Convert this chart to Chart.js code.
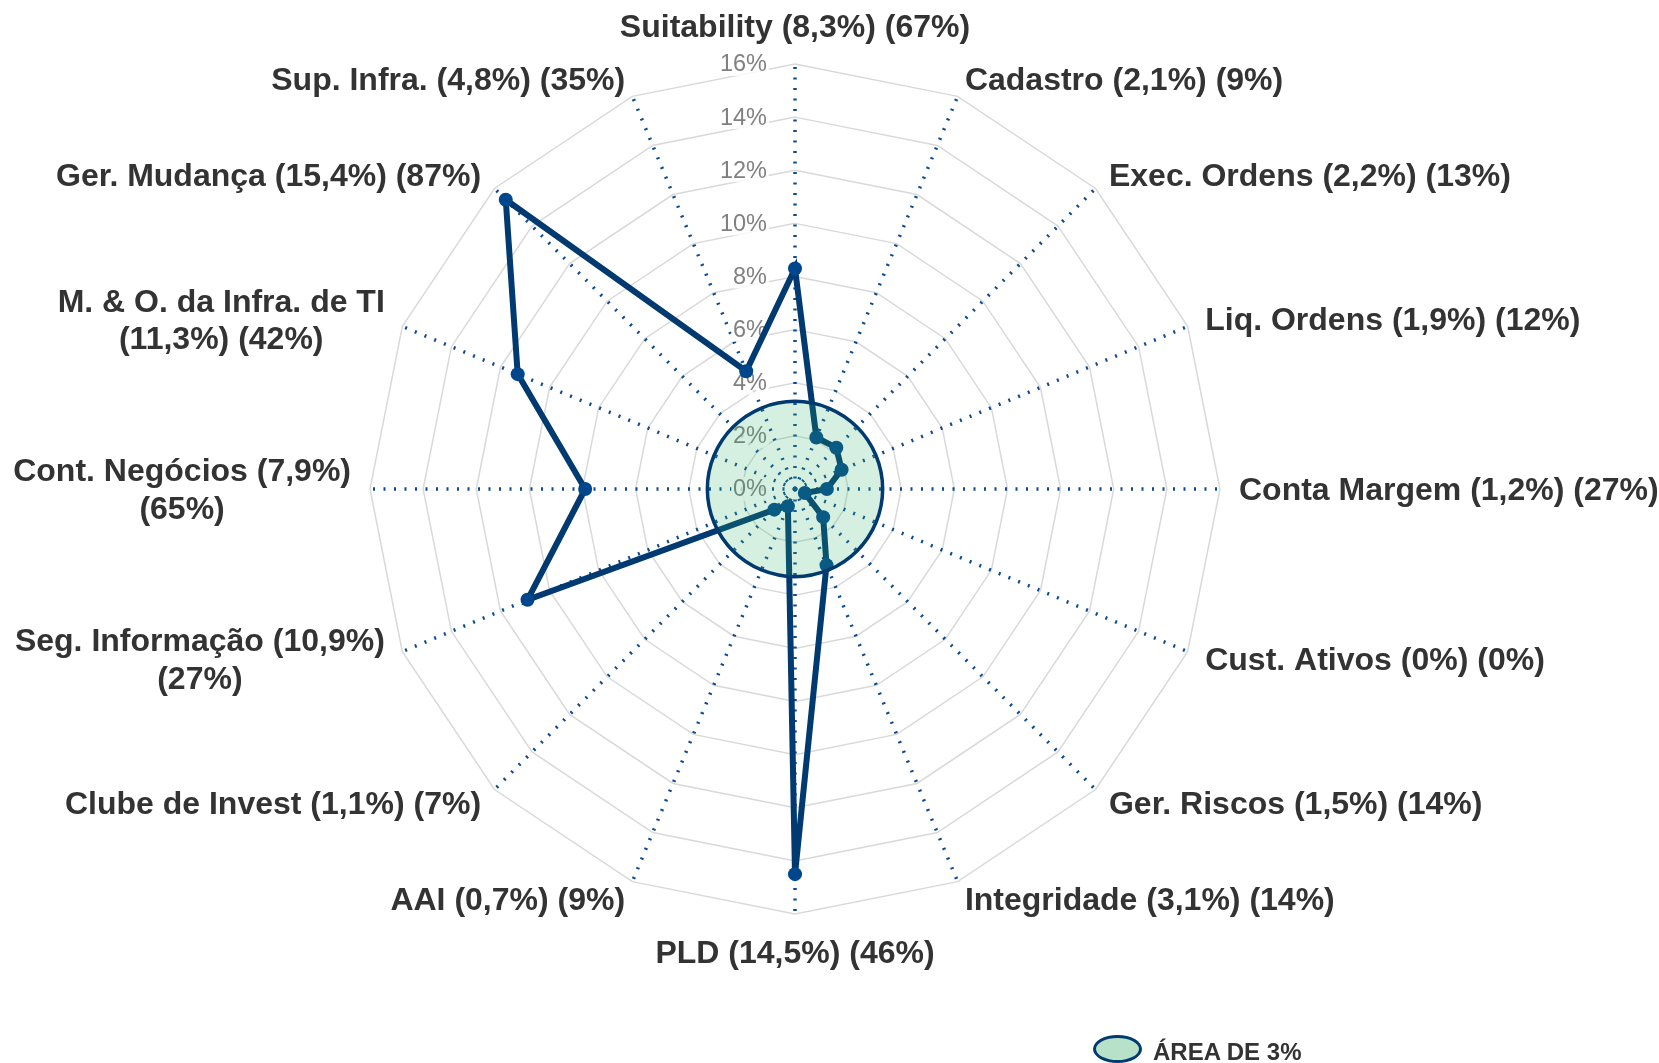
<!DOCTYPE html>
<html>
<head>
<meta charset="utf-8">
<script src="https://cdn.jsdelivr.net/npm/chart.js@4.4.1/dist/chart.umd.min.js"></script>
<style>
  html, body { margin: 0; padding: 0; background: #ffffff; }
  #wrap { position: relative; width: 1659px; height: 1063px; overflow: hidden; }
  #c { position: absolute; left: 0; top: 0; }
  #legend-icon {
    position: absolute; left: 1093px; top: 1035px;
    width: 43px; height: 22px; border: 3.5px solid #003a70; border-radius: 50%;
    background: rgb(183, 225, 201);
  }
  #legend-text {
    position: absolute; left: 1153px; top: 1038px;
    font-family: "Liberation Sans", Arial, sans-serif; font-weight: bold; font-size: 24px;
    line-height: 28px; color: #333333; white-space: nowrap;
  }
</style>
</head>
<body>
<div id="wrap">
  <canvas id="c" width="1659" height="1063"></canvas>
  <div id="legend-icon"></div>
  <div id="legend-text"></div>
</div>
<script>
// ---- data ----
const categories = [
  ['Suitability (8,3%) (67%)'],
  ['Cadastro (2,1%) (9%)'],
  ['Exec. Ordens (2,2%) (13%)'],
  ['Liq. Ordens (1,9%) (12%)'],
  ['Conta Margem (1,2%) (27%)'],
  ['Cust. Ativos (0%) (0%)'],
  ['Ger. Riscos (1,5%) (14%)'],
  ['Integridade (3,1%) (14%)'],
  ['PLD (14,5%) (46%)'],
  ['AAI (0,7%) (9%)'],
  ['Clube de Invest (1,1%) (7%)'],
  ['Seg. Informação (10,9%)', '(27%)'],
  ['Cont. Negócios (7,9%)', '(65%)'],
  ['M. & O. da Infra. de TI', '(11,3%) (42%)'],
  ['Ger. Mudança (15,4%) (87%)'],
  ['Sup. Infra. (4,8%) (35%)']
];
const riskValues = [8.3, 2.1, 2.2, 1.9, 1.2, 0.4, 1.5, 3.1, 14.5, 0.7, 1.1, 10.9, 7.9, 11.3, 15.4, 4.8];
const areaLabel = 'ÁREA DE 3%';
const areaValues = [3.3, 3.3, 3.3, 3.3, 3.3, 3.3, 3.3, 3.3, 3.3, 3.3, 3.3, 3.3, 3.3, 3.3, 3.3, 3.3];
const tickValues = [0, 2, 4, 6, 8, 10, 12, 14, 16];
const tickLabels = ['0%', '2%', '4%', '6%', '8%', '10%', '12%', '14%', '16%'];

// ---- styles ----
const FONT = '"Liberation Sans", Arial, Helvetica, sans-serif';
const NAVY = '#003a70';
const LABEL_PAD = 19;
const LABEL_SIZE = 32;
const LABEL_LH = 37.5;
const LABEL_DY = 2.4;

const tickLabelPlugin = {
  id: 'tickLabelPlugin',
  beforeDatasetsDraw(chart) {
    const sc = chart.scales.r;
    const ctx = chart.ctx;
    ctx.save();
    ctx.font = '23.5px ' + FONT;
    ctx.textAlign = 'right';
    ctx.textBaseline = 'middle';
    tickValues.forEach((v, k) => {
      const p = sc.getPointPositionForValue(0, v);
      const xr = sc.xCenter - 28;
      const w = ctx.measureText(tickLabels[k]).width;
      ctx.fillStyle = 'rgba(255,255,255,0.8)';
      ctx.fillRect(xr - w - 2, p.y - 12, w + 4, 24);
      ctx.fillStyle = '#808080';
      ctx.fillText(tickLabels[k], xr, p.y + 1);
    });
    ctx.restore();
  }
};

const pointLabelPlugin = {
  id: 'pointLabelPlugin',
  afterDraw(chart) {
    const sc = chart.scales.r;
    const ctx = chart.ctx;
    ctx.save();
    ctx.font = 'bold ' + LABEL_SIZE + 'px ' + FONT;
    ctx.fillStyle = '#333333';
    ctx.textAlign = 'center';
    ctx.textBaseline = 'middle';
    categories.forEach((lines, i) => {
      const pos = sc.getPointPosition(i, sc.drawingArea + LABEL_PAD);
      const deg = Math.round(sc.getIndexAngle(i) * 180 / Math.PI) % 360;
      const w = Math.max(...lines.map(l => ctx.measureText(l).width));
      const h = LABEL_LH * lines.length;
      let cx, top;
      if (deg === 0 || deg === 180) cx = pos.x;
      else if (deg < 180) cx = pos.x + w / 2;
      else cx = pos.x - w / 2;
      if (deg === 0) top = pos.y - h;
      else if (deg === 180) top = pos.y;
      else top = pos.y - h / 2;
      lines.forEach((l, k) => ctx.fillText(l, cx, top + LABEL_LH * (k + 0.5) + LABEL_DY));
    });
    ctx.restore();
  }
};

const chart = new Chart(document.getElementById('c'), {
  type: 'radar',
  data: {
    labels: categories,
    datasets: [
      {
        label: areaLabel,
        data: areaValues,
        order: 0,
        fill: true,
        backgroundColor: 'rgba(45,175,100,0.2)',
        borderColor: NAVY,
        borderWidth: 3.5,
        tension: 0.34,
        pointRadius: 0,
        pointHoverRadius: 0
      },
      {
        label: 'Risco',
        data: riskValues,
        order: 1,
        fill: false,
        borderColor: NAVY,
        borderWidth: 6,
        tension: 0,
        pointRadius: 7,
        pointBorderWidth: 0,
        pointBackgroundColor: '#00468c',
        pointHoverRadius: 7
      }
    ]
  },
  options: {
    responsive: false,
    animation: false,
    devicePixelRatio: 1,
    layout: { padding: { top: 64, bottom: 149, left: 0, right: 69 } },
    plugins: {
      legend: { display: false },
      tooltip: { enabled: false }
    },
    scales: {
      r: {
        min: 0,
        max: 16,
        ticks: { stepSize: 2, display: false },
        grid: { color: '#d9d9d9', lineWidth: 1.5 },
        angleLines: { color: '#0c4b92', lineWidth: 3.5, borderDash: [2, 8.5] },
        pointLabels: { display: false }
      }
    }
  },
  plugins: [tickLabelPlugin, pointLabelPlugin]
});

document.getElementById('legend-text').textContent = chart.data.datasets[0].label;
</script>
</body>
</html>
